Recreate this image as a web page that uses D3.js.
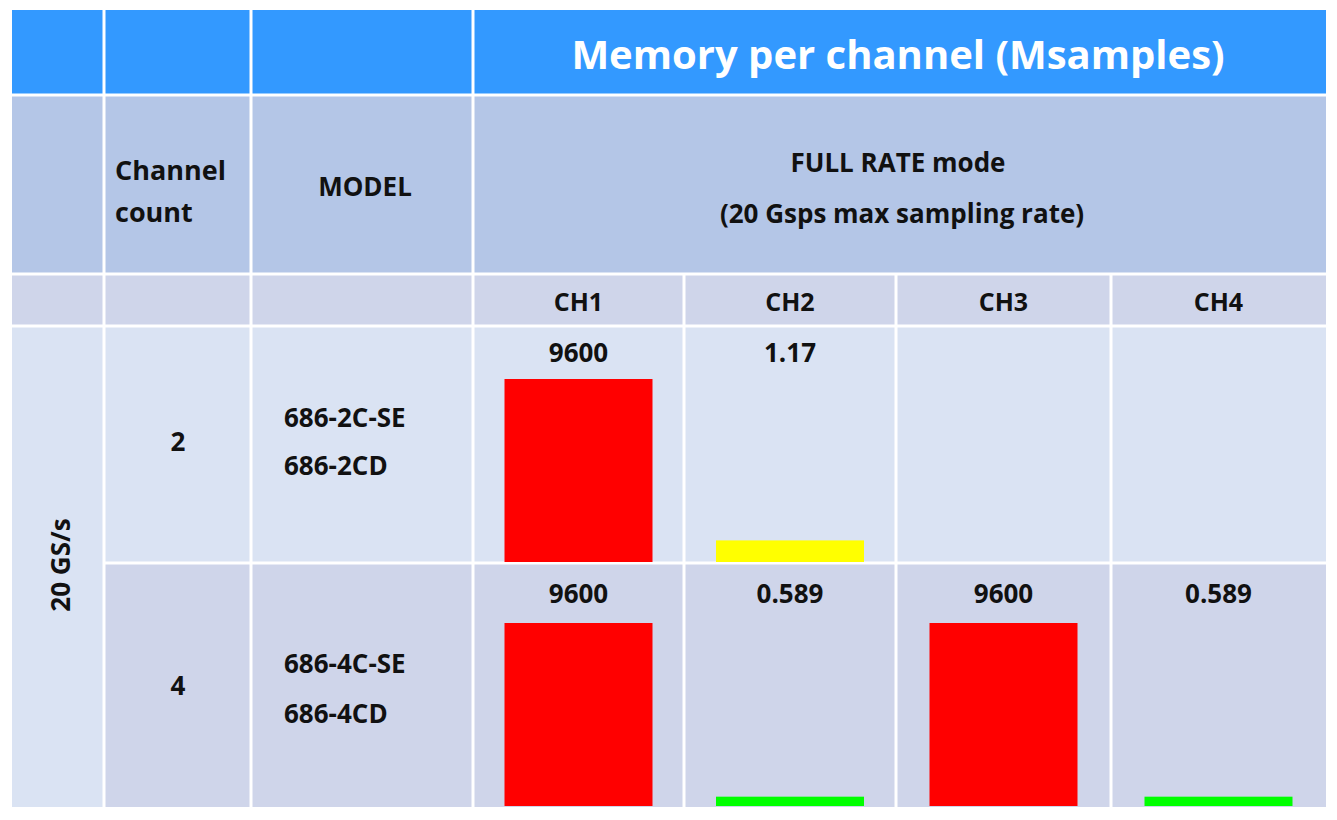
<!DOCTYPE html><html><head><meta charset="utf-8">
<script src="https://cdn.jsdelivr.net/npm/d3@7"></script>
<style>body{margin:0;background:#fff}text{font-family:"Open Sans",sans-serif;font-weight:700;fill:#111}</style></head><body>
<svg id="c" width="1337" height="820"></svg>
<script>
const channels=["CH1","CH2","CH3","CH4"];
const channelCounts=["2","4"];
const models=[["686-2C-SE","686-2CD"],["686-4C-SE","686-4CD"]];
const values=[[9600,1.17,null,null],[9600,0.589,9600,0.589]];
const labels=[["9600","1.17","",""],["9600","0.589","9600","0.589"]];
const svg=d3.select("#c");
const colX=[12,104,251,473,684,896,1111,1326];
const rowY=[10,95,274,326,563,807];
const bg=["#3399ff","#b4c6e7","#cfd5ea","#dae3f3","#cfd5ea"];
for(let r=0;r<5;r++){
  if(r<3){for(let c=0;c<3;c++)svg.append("rect").attr("x",colX[c]).attr("y",rowY[r]).attr("width",colX[c+1]-colX[c]).attr("height",rowY[r+1]-rowY[r]).attr("fill",bg[r]);}
  else{for(let c=1;c<3;c++)svg.append("rect").attr("x",colX[c]).attr("y",rowY[r]).attr("width",colX[c+1]-colX[c]).attr("height",rowY[r+1]-rowY[r]).attr("fill",bg[r]);}
  if(r<2)svg.append("rect").attr("x",colX[3]).attr("y",rowY[r]).attr("width",colX[7]-colX[3]).attr("height",rowY[r+1]-rowY[r]).attr("fill",bg[r]);
  else for(let c=3;c<7;c++)svg.append("rect").attr("x",colX[c]).attr("y",rowY[r]).attr("width",colX[c+1]-colX[c]).attr("height",rowY[r+1]-rowY[r]).attr("fill",bg[r]);
}
svg.append("rect").attr("x",colX[0]).attr("y",rowY[3]).attr("width",colX[1]-colX[0]).attr("height",rowY[5]-rowY[3]).attr("fill","#dae3f3");
const g=svg.append("g").attr("stroke","#fff").attr("stroke-width",3);
[1,2,3].forEach(c=>g.append("line").attr("x1",colX[c]).attr("x2",colX[c]).attr("y1",rowY[0]).attr("y2",rowY[5]));
[4,5,6].forEach(c=>g.append("line").attr("x1",colX[c]).attr("x2",colX[c]).attr("y1",rowY[2]).attr("y2",rowY[5]));
[1,2,3].forEach(r=>g.append("line").attr("x1",colX[0]).attr("x2",colX[7]).attr("y1",rowY[r]).attr("y2",rowY[r]));
g.append("line").attr("x1",colX[1]).attr("x2",colX[7]).attr("y1",rowY[4]).attr("y2",rowY[4]);
const t=(x,y,s,size,anchor="middle",fill="#111")=>svg.append("text").attr("x",x).attr("y",y).attr("font-size",size).attr("text-anchor",anchor).style("fill",fill).text(s);
t(898,69,"Memory per channel (Msamples)",40,"middle","#fff");
t(115,180,"Channel",27,"start");t(115,222,"count",27,"start");
t(365,196,"MODEL",26);
t(898,172,"FULL RATE mode",26);t(902,223,"(20 Gsps max sampling rate)",26);
channels.forEach((c,i)=>t((colX[i+3]+colX[i+4])/2,311,c,25));
const y=d3.scaleLog().domain([0.35,9600]).range([0,183]);
const colors={"9600":"#ff0000","1.17":"#ffff00","0.589":"#00ff00"};
const modelY=[[418-326,466-326],[664-563,714-563]], countY=[442-326,686-563], valY=[36,40];
values.forEach((row,r)=>{
  const base=rowY[r+4]-1, top=rowY[r+3];
  t(178,top+countY[r]+9,channelCounts[r],26);
  t(284,top+modelY[r][0]+9,models[r][0],26,"start");t(284,top+modelY[r][1]+9,models[r][1],26,"start");
  row.forEach((v,i)=>{
    const cx=(colX[i+3]+colX[i+4])/2;
    if(labels[r][i])t(cx,top+valY[r],labels[r][i],26);
    if(v!=null)svg.append("rect").attr("x",cx-74).attr("width",148).attr("y",base-y(v)).attr("height",y(v)).attr("fill",colors[labels[r][i]]);
  });
});
svg.append("text").attr("transform","translate(70,565) rotate(-90)").attr("text-anchor","middle").attr("font-size",26).text("20 GS/s");
</script></body></html>
